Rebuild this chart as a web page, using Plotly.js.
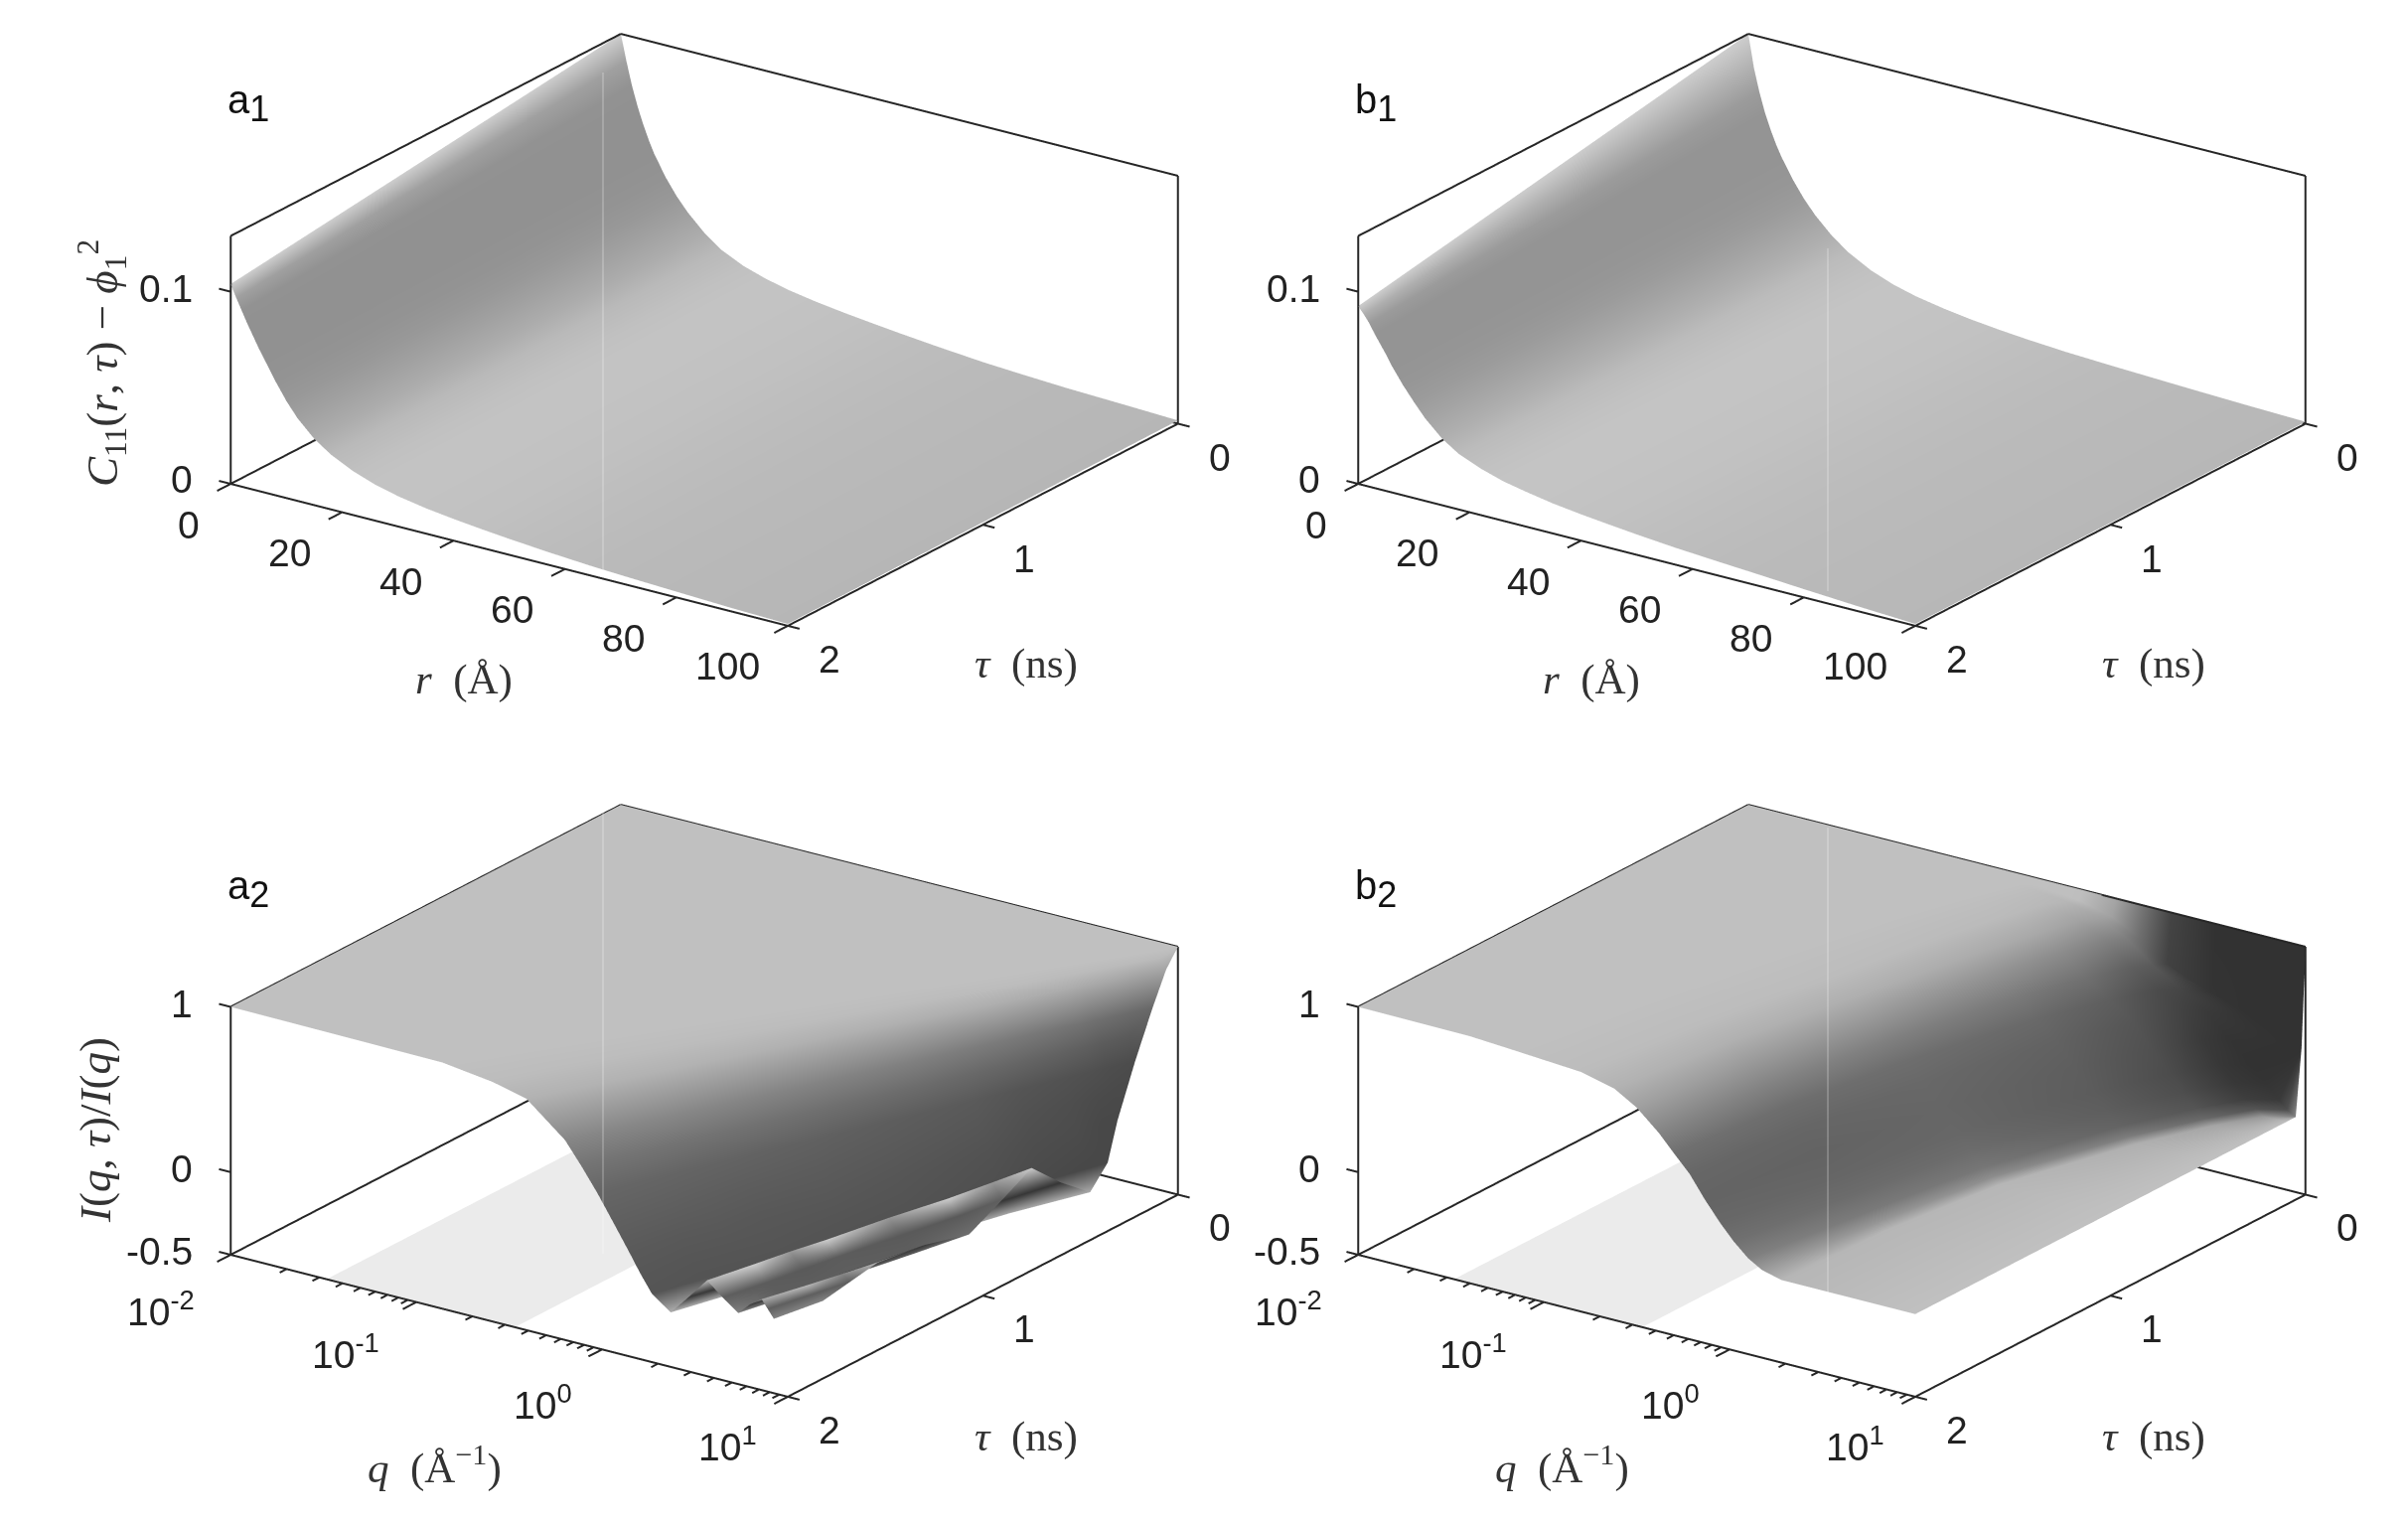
<!DOCTYPE html>
<html><head><meta charset="utf-8">
<script src="https://cdn.plot.ly/plotly-3.0.1.min.js"></script>
<style>html,body{margin:0;padding:0;background:#fff}</style></head>
<body><div id="chart" style="width:2424px;height:1532px"></div>
<script>
// ---------- axis values ----------
const rTicks=[0,20,40,60,80,100];
const tauTicks=[0,1,2];
const qMajor=[0.01,0.1,1,10];
const qMajorText=['10<sup>-2</sup>','10<sup>-1</sup>','10<sup>0</sup>','10<sup>1</sup>'];
const qMinor=[0.02,0.03,0.04,0.05,0.06,0.07,0.08,0.09,0.2,0.3,0.4,0.5,0.6,0.7,0.8,0.9,2,3,4,5,6,7,8,9];
const zTicksTop=[0,0.1];
const zTicksBottom=[-0.5,0,1];
// ---------- panel a1 / b1: C11(r,tau)-phi^2 ----------
const rVals=[0,1,2,3,4,5,6,8,10,12,15,18,22,26,30,35,40,45,50,57,65,72,80,90,100];
const tauTop=[0,1,2];
const a1Tau0=[.129,.1155,.1035,.0935,.085,.0775,.071,.0605,.052,.045,.0365,.03,.0245,.0208,.018,.0155,.0135,.0118,.0102,.0082,.0062,.005,.0038,.0028,.0017];
const a1Tau1=[.1165,.1065,.0975,.0895,.0825,.076,.0703,.06,.0513,.044,.0355,.0293,.0237,.0198,.0169,.0144,.0124,.0108,.0092,.0074,.0056,.0045,.0034,.0023,.0013];
const a1Tau2=[.104,.0975,.0915,.0855,.08,.0745,.0695,.0595,.0505,.043,.0345,.0285,.0228,.0187,.0158,.0132,.0113,.0097,.0083,.0066,.005,.004,.003,.0018,.001];
const b1Tau0=[.129,.112,.1,.09,.082,.075,.069,.059,.0505,.0435,.035,.0285,.0222,.0178,.0147,.012,.0099,.0083,.007,.0056,.0045,.0037,.0028,.0018,.001];
const b1Tau1=[.1108,.1005,.0925,.085,.0788,.073,.0675,.0583,.0503,.0433,.0349,.0287,.0232,.0192,.0164,.0138,.0118,.0102,.0088,.0072,.0058,.0048,.0035,.0021,.001];
const b1Tau2=[.0925,.089,.085,.08,.0755,.071,.066,.0575,.05,.043,.0348,.029,.0242,.0206,.0182,.0156,.0137,.0121,.0106,.0088,.0072,.0059,.0043,.0025,.001];
const a1Shade=[205,160,146,145,145,145,145,147,152,160,172,185,192,195,195,194,193,192,190,188,186,185,184,183,182];
const b1Shade=[205,175,155,148,148,148,148,150,155,163,175,187,193,196,196,195,194,193,191,189,187,186,185,184,183];
// ---------- panel a2: I(q,tau)/I(q); each column follows one crest, trough or level line ----------
const tauA=[0,.06,.13,.22,.31,.36,.45,.6,.75,.9,1.07,1.3,1.54,1.68,1.82,2];
const a2LogQ0=[-2,-1.4,1,1,1,1,1,1,1,1,1,1,1,1,1,1,1,1,1,1,1];
const a2LogQ1=[-2,-1.4,.944,.976,1,1,1,1,1,1,1,1,1,1,1,1,1,1,1,1,1];
const a2LogQ2=[-2,-1.4,.879,.919,.949,1,1,1,1,1,1,1,1,1,1,1,1,1,1,1,1];
const a2LogQ3=[-2,-1.4,.795,.847,.884,.942,.971,1,1,1,1,1,1,1,1,1,1,1,1,1,1];
const a2LogQ4=[-2,-1.4,.712,.774,.819,.884,.916,.948,.974,1,1,1,1,1,1,1,1,1,1,1,1];
const a2LogQ5=[-2,-1.4,.665,.734,.782,.852,.886,.919,.947,.975,.988,1,1,1,1,1,1,1,1,1,1];
const a2LogQ6=[-2,-1.4,.582,.661,.717,.795,.831,.867,.898,.929,.945,.96,1,1,1,1,1,1,1,1,1];
const a2LogQ7=[-2,-1.4,.442,.54,.608,.698,.74,.781,.817,.853,.873,.893,.939,1,1,1,1,1,1,1,1];
const a2LogQ8=[-2,-1.4,.303,.419,.499,.602,.649,.695,.736,.777,.802,.826,.878,.943,1,1,1,1,1,1,1];
const a2LogQ9=[-2,-1.4,.163,.298,.391,.506,.557,.608,.655,.701,.73,.759,.817,.886,.948,1,1,1,1,1,1];
const a2LogQ10=[-2,-1.4,.005,.161,.267,.397,.454,.51,.562,.614,.649,.683,.748,.821,.889,.946,1,1,1,1,1];
const a2LogQ11=[-2,-1.4,-.209,-.025,.1,.249,.314,.378,.438,.497,.539,.58,.654,.733,.809,.872,.934,1,1,1,1];
const a2LogQ12=[-2,-1.4,-.432,-.219,-.074,.095,.167,.239,.308,.376,.425,.473,.557,.642,.725,.796,.865,.93,1,1,1];
const a2LogQ13=[-2,-1.4,-.562,-.332,-.175,.005,.082,.159,.232,.305,.358,.411,.5,.588,.676,.751,.825,.889,.957,1,1];
const a2LogQ14=[-2,-1.4,-.693,-.445,-.277,-.084,-.003,.078,.156,.234,.291,.348,.443,.535,.628,.706,.785,.849,.914,.953,1];
const a2LogQ15=[-2,-1.4,-.86,-.59,-.407,-.2,-.113,-.026,.058,.142,.205,.268,.37,.466,.565,.649,.733,.796,.859,.892,.925];
const a2Z0=[1,1,1,1,1,1,1,1,1,1,1,1,1,1,1,1,1,1,1,1,1];
const a2Z1=[1,1,.995,.96,.9,.9,.9,.9,.9,.9,.9,.9,.9,.9,.9,.9,.9,.9,.9,.9,.9];
const a2Z2=[1,1,.995,.96,.9,.71,.71,.71,.71,.71,.71,.71,.71,.71,.71,.71,.71,.71,.71,.71,.71];
const a2Z3=[1,1,.995,.96,.9,.71,.58,.44,.44,.44,.44,.44,.44,.44,.44,.44,.44,.44,.44,.44,.44];
const a2Z4=[1,1,.995,.96,.9,.71,.58,.44,.29,.138,.138,.138,.138,.138,.138,.138,.138,.138,.138,.138,.138];
const a2Z5=[1,1,.995,.96,.9,.71,.58,.44,.29,.138,.02,-.086,-.086,-.086,-.086,-.086,-.086,-.086,-.086,-.086,-.086];
const a2Z6=[1,1,.995,.96,.9,.71,.58,.44,.29,.138,.02,-.086,-.21,-.21,-.21,-.21,-.21,-.21,-.21,-.21,-.21];
const a2Z7=[1,1,.995,.96,.9,.71,.58,.44,.29,.138,.02,-.086,-.2,-.06,-.06,-.06,-.06,-.06,-.06,-.06,-.06];
const a2Z8=[1,1,.995,.96,.9,.71,.58,.44,.29,.138,.02,-.086,-.19,-.06,.12,.12,.12,.12,.12,.12,.12];
const a2Z9=[1,1,.995,.96,.9,.71,.58,.44,.29,.138,.02,-.086,-.19,-.06,.11,.02,.02,.02,.02,.02,.02];
const a2Z10=[1,1,.995,.96,.9,.71,.58,.44,.29,.138,.02,-.086,-.18,-.06,.1,.01,-.086,-.086,-.086,-.086,-.086];
const a2Z11=[1,1,.995,.96,.9,.71,.58,.44,.29,.138,.02,-.086,-.18,-.06,.1,.01,-.085,-.01,-.01,-.01,-.01];
const a2Z12=[1,1,.995,.96,.9,.71,.58,.44,.29,.138,.02,-.086,-.18,-.06,.09,.01,-.08,-.01,.03,.03,.03];
const a2Z13=[1,1,.995,.96,.9,.71,.58,.44,.29,.138,.02,-.086,-.175,-.06,.09,.005,-.08,-.01,.035,0,0];
const a2Z14=[1,1,.995,.96,.9,.71,.58,.44,.29,.138,.02,-.086,-.17,-.055,.085,0,-.075,-.005,.04,0,-.03];
const a2Z15=[1,.995,.99,.95,.9,.71,.58,.44,.29,.138,.02,-.086,-.17,-.05,.08,0,-.07,0,.05,0,-.05];
const a2S0=[192,192,192,192,192,192,192,192,192,192,192,192,192,192,192,192,192,192,192,192,192];
const a2S1=[192,192,192,185,165,165,165,165,165,165,165,165,165,165,165,165,165,165,165,165,165];
const a2S2=[192,192,192,186,165,105,105,105,105,105,105,105,105,105,105,105,105,105,105,105,105];
const a2S3=[192,192,192,186,168,108,90,76,76,76,76,76,76,76,76,76,76,76,76,76,76];
const a2S4=[192,192,192,187,170,112,92,78,74,72,72,72,72,72,72,72,72,72,72,72,72];
const a2S5=[192,192,192,187,172,115,95,80,75,72,72,72,72,72,72,72,72,72,72,72,72];
const a2S6=[192,192,192,188,173,118,98,82,78,76,74,72,170,170,170,170,170,170,170,170,170];
const a2S7=[192,192,192,188,175,122,102,85,81,78,76,74,170,55,55,55,55,55,55,55,55];
const a2S8=[192,192,192,188,175,125,105,90,86,82,80,78,165,55,200,200,200,200,200,200,200];
const a2S9=[192,192,192,188,176,128,108,92,88,84,82,80,165,55,150,95,95,95,95,95,95];
const a2S10=[192,192,192,188,176,130,110,94,90,86,84,82,165,55,205,90,110,110,110,110,110];
const a2S11=[192,192,192,188,177,132,112,97,92,88,85,83,165,55,150,90,95,55,55,55,55];
const a2S12=[192,192,192,188,178,134,114,99,93,88,86,84,165,55,205,92,95,55,180,180,180];
const a2S13=[192,192,192,188,178,135,115,100,94,89,86,84,165,55,150,90,95,55,135,95,95];
const a2S14=[192,192,192,188,178,135,116,101,95,89,86,84,165,55,205,92,95,55,185,95,130];
const a2S15=[192,192,192,188,178,135,116,102,96,90,87,85,175,58,185,95,130,58,170,95,130];
// ---------- panel b2: I(q,tau)/I(q); columns follow level lines ----------
const tauB=[0,.02,.05,.1,.25,.5,1,1.5,2];
const b2LogQ0=[-2,-1.4,-.47,-.2,-.02,.13,.28,.52,.76,1,1,1,1,1,1,1];
const b2LogQ1=[-2,-1.4,-.47,-.2,-.02,.13,.28,.52,.76,1,1,1,1,1,1,1];
const b2LogQ2=[-2,-1.4,-.5,-.23,-.05,.091,.235,.376,.52,.64,.76,.835,.91,.955,1,1];
const b2LogQ3=[-2,-1.4,-.53,-.29,-.11,.031,.175,.316,.46,.556,.655,.721,.79,.835,.88,1];
const b2LogQ4=[-2,-1.4,-.62,-.35,-.17,-.044,.085,.211,.34,.436,.535,.601,.67,.715,.76,1];
const b2LogQ5=[-2,-1.4,-.74,-.44,-.26,-.149,-.035,.076,.19,.286,.385,.451,.52,.565,.61,1];
const b2LogQ6=[-2,-1.4,-.92,-.575,-.395,-.299,-.2,-.104,-.005,.085,.175,.241,.31,.355,.4,1];
const b2LogQ7=[-2,-1.4,-1.07,-.71,-.53,-.425,-.32,-.224,-.125,-.044,.04,.121,.205,.256,.31,1];
const b2LogQ8=[-2,-1.4,-1.19,-.8,-.62,-.5,-.38,-.299,-.215,-.134,-.05,.022,.1,.175,.28,1];
const b2Z0=[1,1,1,1,1,1,1,1,1,1,1,1,1,1,1,1];
const b2Z1=[1,1,.98,.95,.9,.82,.7,.6,.5,.4,.4,.4,.4,.4,.4,.4];
const b2Z2=[1,.995,.98,.95,.9,.82,.7,.6,.5,.37,.25,.16,.08,.03,0,0];
const b2Z3=[1,.995,.98,.95,.9,.82,.7,.6,.5,.37,.25,.16,.08,.03,0,0];
const b2Z4=[1,.995,.98,.95,.9,.82,.7,.6,.5,.37,.25,.16,.08,.03,0,0];
const b2Z5=[1,.995,.98,.95,.9,.82,.7,.6,.5,.37,.25,.16,.08,.03,0,0];
const b2Z6=[1,.995,.98,.95,.9,.82,.7,.6,.5,.37,.25,.16,.08,.03,0,0];
const b2Z7=[1,.995,.98,.95,.9,.82,.7,.6,.5,.37,.25,.16,.08,.03,0,0];
const b2Z8=[1,.995,.98,.95,.9,.82,.7,.6,.5,.37,.25,.16,.08,.03,0,0];
const b2S0=[192,192,192,190,165,115,68,50,50,50,50,50,50,50,50,50];
const b2S1=[192,192,192,190,160,110,66,52,50,50,50,50,50,50,50,50];
const b2S2=[192,192,192,182,160,125,90,70,58,52,50,52,58,80,135,170];
const b2S3=[192,192,192,184,162,130,95,75,65,58,55,56,62,85,150,192];
const b2S4=[192,192,192,186,168,140,112,94,85,80,76,78,85,105,165,192];
const b2S5=[192,192,192,187,172,148,122,105,98,94,92,94,100,125,175,192];
const b2S6=[192,192,192,188,175,155,128,110,104,102,103,108,118,142,182,192];
const b2S7=[192,192,192,188,176,156,130,110,102,99,102,108,122,150,182,192];
const b2S8=[192,192,192,188,178,160,132,112,103,100,104,112,128,155,182,192];
// floor band in the lower panels
const bandQ=[0.0328,0.339];
const bandTau=[0,2];
const bandShade=235;

// ---------- style / geometry ----------
const W=2424,H=1532;
const INK='#262626';
const tickFont={family:'Liberation Sans, Arial, sans-serif',size:39,color:'#222'};
const serif={family:'Liberation Serif, serif',size:43,color:'#333'};
const serifZ={family:'Liberation Serif, serif',size:45,color:'#333'};
const grayScale=[[0,'rgb(0,0,0)'],[1,'rgb(255,255,255)']];
const K=330;                 // px per unit of aspect ratio (calibration)
const LEN={tau:684,x:685,z:267.8};
const PAD={tau:1.07,x:1.05,z:1.02};
const EYE={x:1.5256,y:1.07,z:0.7266};
const DOM=[[149,2,1269,662],[1284,2,2404,662],[149,777.5,1269,1437.5],[1284,777.5,2404,1437.5]];
const FLAT={ambient:1,diffuse:0,specular:0,roughness:1,fresnel:0};

const T=(rows)=>rows[0].map((_,j)=>rows.map(r=>r[j]));

function axesBase(range,extra){
  return Object.assign({range:range,showgrid:false,zeroline:false,showline:false,showticklabels:false,
    ticks:'',showbackground:false,showspikes:false,title:{text:''}},extra||{});
}
function sceneLayout(i,isLog,zr){
  const d=DOM[i];
  const zp=(zr[1]-zr[0])*(PAD.z-1)/2;
  return {
    domain:{x:[d[0]/W,d[2]/W],y:[1-d[3]/H,1-d[1]/H]},
    xaxis:axesBase([0-2*(PAD.tau-1)/2,2+2*(PAD.tau-1)/2]),
    yaxis:isLog?axesBase([-2-3*(PAD.x-1)/2,1+3*(PAD.x-1)/2],{type:'log'}):axesBase([0-100*(PAD.x-1)/2,100+100*(PAD.x-1)/2]),
    zaxis:axesBase([zr[0]-zp,zr[1]+zp]),
    aspectmode:'manual',
    aspectratio:{x:LEN.tau*PAD.tau/K,y:LEN.x*PAD.x/K,z:LEN.z*PAD.z/K},
    camera:{eye:EYE,center:{x:0,y:0,z:0},up:{x:0,y:0,z:1},projection:{type:'orthographic'}},
    dragmode:false
  };
}
function frameTrace(name,yLo,yHi,zr,yTicks,yMinor,zTicks,yOut,zOut){
  const xs=[],ys=[],zs=[];
  const seg=(a,b)=>{xs.push(a[0],b[0],null);ys.push(a[1],b[1],null);zs.push(a[2],b[2],null);};
  const [z0,z1]=zr;
  seg([2,yLo,z0],[2,yLo,z1]);
  seg([2,yLo,z1],[0,yLo,z1]);
  seg([0,yLo,z1],[0,yHi,z1]);
  seg([0,yHi,z0],[0,yHi,z1]);
  seg([2,yLo,z0],[0,yLo,z0]);
  seg([0,yLo,z0],[0,yHi,z0]);
  seg([2,yLo,z0],[2,yHi,z0]);
  seg([2,yHi,z0],[0,yHi,z0]);
  yTicks.forEach(v=>seg([2,v,z0],[2.07,v,z0]));
  yMinor.forEach(v=>seg([2,v,z0],[2.035,v,z0]));
  tauTicks.forEach(v=>seg([v,yHi,z0],[v,yOut,z0]));
  zTicks.forEach(v=>seg([2,yLo,v],[2,zOut,v]));
  return {type:'scatter3d',mode:'lines',scene:name,x:xs,y:ys,z:zs,connectgaps:false,
    line:{color:INK,width:4},hoverinfo:'skip',showlegend:false};
}
function surf(name,x,y,rows,shade){
  return {type:'surface',scene:name,x:x,y:y,z:T(rows),surfacecolor:T(shade),cmin:0,cmax:255,
    colorscale:grayScale,showscale:false,hoverinfo:'skip',lighting:FLAT,
    contours:{x:{show:false},y:{show:false},z:{show:false}}};
}
function surfLines(name,tau,logQ,rows,shade){
  const ty=T(logQ.map(r=>r.map(v=>Math.pow(10,v))));
  const tx=T(logQ.map((r,i)=>r.map(()=>tau[i])));
  return {type:'surface',scene:name,x:tx,y:ty,z:T(rows),surfacecolor:T(shade),cmin:0,cmax:255,
    colorscale:grayScale,showscale:false,hoverinfo:'skip',lighting:FLAT,
    contours:{x:{show:false},y:{show:false},z:{show:false}}};
}
function band(name,zv){
  return {type:'surface',scene:name,x:bandTau,y:bandQ,z:[[zv,zv],[zv,zv]],
    surfacecolor:[[bandShade,bandShade],[bandShade,bandShade]],cmin:0,cmax:255,colorscale:grayScale,
    showscale:false,hoverinfo:'skip',lighting:FLAT};
}
function lbl(x,y,z,text,xs,ys,anchor){
  return {x:x,y:y,z:z,text:text,showarrow:false,xshift:xs,yshift:ys,font:tickFont,
    xanchor:anchor||'center',yanchor:'middle'};
}
function topAnn(zt){
  const a=[];
  rTicks.forEach(v=>{const s=String(v).length;a.push(lbl(2,v,0,String(v),[-42,-53,-61][s-1],-41));});
  tauTicks.forEach(v=>a.push(lbl(v,100,0,String(v),42,-34)));
  zt.forEach(v=>a.push(lbl(2,0,v,String(v),-36,v===0?5:3,'right')));
  return a;
}
function botAnn(zt){
  const a=[];
  const off=[[-70,-55],[-71,-50],[-60,-54],[-61,-48]];
  qMajor.forEach((v,i)=>a.push(lbl(2,Math.log10(v),-0.5,qMajorText[i],off[i][0],off[i][1])));
  tauTicks.forEach(v=>a.push(lbl(v,1,-0.5,String(v),42,-34)));
  zt.forEach(v=>a.push(lbl(2,-2,v,String(v),-36,3,'right')));
  return a;
}
const zTop=[0,0.129];
const zBot=[-0.5,1];
const data=[
  surf('scene',tauTop,rVals,[a1Tau0,a1Tau1,a1Tau2],[a1Shade,a1Shade,a1Shade]),
  frameTrace('scene',0,100,zTop,rTicks,[],zTicksTop,102.1,-2.1),
  surf('scene2',tauTop,rVals,[b1Tau0,b1Tau1,b1Tau2],[b1Shade,b1Shade,b1Shade]),
  frameTrace('scene2',0,100,zTop,rTicks,[],zTicksTop,102.1,-2.1),
  band('scene3',-0.5),
  surfLines('scene3',tauA,
    [a2LogQ0,a2LogQ1,a2LogQ2,a2LogQ3,a2LogQ4,a2LogQ5,a2LogQ6,a2LogQ7,a2LogQ8,a2LogQ9,a2LogQ10,a2LogQ11,a2LogQ12,a2LogQ13,a2LogQ14,a2LogQ15],
    [a2Z0,a2Z1,a2Z2,a2Z3,a2Z4,a2Z5,a2Z6,a2Z7,a2Z8,a2Z9,a2Z10,a2Z11,a2Z12,a2Z13,a2Z14,a2Z15],
    [a2S0,a2S1,a2S2,a2S3,a2S4,a2S5,a2S6,a2S7,a2S8,a2S9,a2S10,a2S11,a2S12,a2S13,a2S14,a2S15]),
  frameTrace('scene3',0.01,10,zBot,qMajor,qMinor,zTicksBottom,11.56,0.00865),
  band('scene4',-0.5),
  surfLines('scene4',tauB,
    [b2LogQ0,b2LogQ1,b2LogQ2,b2LogQ3,b2LogQ4,b2LogQ5,b2LogQ6,b2LogQ7,b2LogQ8],
    [b2Z0,b2Z1,b2Z2,b2Z3,b2Z4,b2Z5,b2Z6,b2Z7,b2Z8],
    [b2S0,b2S1,b2S2,b2S3,b2S4,b2S5,b2S6,b2S7,b2S8]),
  frameTrace('scene4',0.01,10,zBot,qMajor,qMinor,zTicksBottom,11.56,0.00865)
];
const paperText=(px,py,text,font,angle)=>({xref:'paper',yref:'paper',x:px/W,y:1-py/H,text:text,showarrow:false,
  font:font,textangle:angle||0,xanchor:'center',yanchor:'middle'});
const DX=1135;
const panelFont={family:'Liberation Sans, Arial, sans-serif',size:40,color:'#111'};
const sub=(c,n)=>c+'<sub><span style="font-size:36px">'+n+'</span></sub>';
const NB='\u00a0';
const rT='<i>r</i>'+NB+NB+'(Å)', tT='<i>τ</i>'+NB+NB+'(ns)', qT='<i>q</i>'+NB+NB+'(Å<sup>−1</sup>)';
const titles=[
  paperText(250,104,sub('a','1'),panelFont),paperText(250+DX,104,sub('b','1'),panelFont),
  paperText(250,895,sub('a','2'),panelFont),paperText(250+DX,895,sub('b','2'),panelFont),
  paperText(467,684,rT,serif),paperText(467+DX,684,rT,serif),
  paperText(1033,668,tT,serif),paperText(1033+DX,668,tT,serif),
  paperText(437,1474,qT,serif),paperText(437+DX,1474,qT,serif),
  paperText(1033,1446,tT,serif),paperText(1033+DX,1446,tT,serif),
  paperText(102,366,'<i>C</i><sub>11</sub>(<i>r</i>,'+NB+'<i>τ</i>)'+NB+'−'+NB+'<i>ϕ</i><sub>1</sub><sup>2</sup>',serifZ,-90),
  paperText(96,1138,'<i>I</i>(<i>q</i>,'+NB+'<i>τ</i>)/<i>I</i>(<i>q</i>)',serifZ,-90)
];
const seam=(x,y0,y1)=>({type:'line',xref:'paper',yref:'paper',x0:x/W,x1:x/W,y0:1-y0/H,y1:1-y1/H,layer:'above',
  line:{color:'rgba(255,255,255,0.28)',width:1.5}});
const s1=sceneLayout(0,false,zTop);s1.annotations=topAnn(zTicksTop);
const s2=sceneLayout(1,false,zTop);s2.annotations=topAnn(zTicksTop);
const s3=sceneLayout(2,true,zBot);s3.annotations=botAnn(zTicksBottom);
const s4=sceneLayout(3,true,zBot);s4.annotations=botAnn(zTicksBottom);
const layout={width:W,height:H,margin:{l:0,r:0,t:0,b:0},paper_bgcolor:'#fff',showlegend:false,
  scene:s1,scene2:s2,scene3:s3,scene4:s4,annotations:titles,
  shapes:[seam(607,73,574),seam(1840,250,595),seam(607,816,1262),seam(1840,833,1308)]};
Plotly.newPlot('chart',data,layout,{displayModeBar:false});
</script></body></html>
